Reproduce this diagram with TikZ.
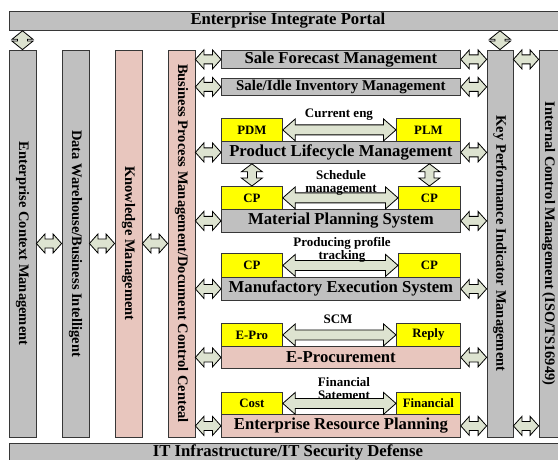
\documentclass[tikz,border=0pt]{standalone}
\usepackage{fontspec}
\setmainfont{Liberation Serif}
\usetikzlibrary{calc}
\definecolor{gfill}{RGB}{192,192,192}
\definecolor{pfill}{RGB}{232,198,190}
\definecolor{yfill}{RGB}{255,255,0}
\definecolor{afill}{RGB}{221,227,208}
\definecolor{edgec}{RGB}{55,55,55}
\tikzset{
 basebox/.style={draw=edgec, line width=0.8pt, inner sep=0pt, anchor=north west},
 gbox/.style={basebox, fill=gfill},
 pbox/.style={basebox, fill=pfill},
 ybox/.style={basebox, fill=yfill, font=\bfseries\fontsize{12.8}{14}\selectfont},
 bigtxt/.style={font=\bfseries\fontsize{16.7}{18}\selectfont},
 midtxt/.style={font=\bfseries\fontsize{14.9}{16}\selectfont},
 coltxt/.style={font=\bfseries\fontsize{14.5}{16}\selectfont},
 colbox/.style={draw=edgec, line width=0.8pt, inner sep=0pt, rotate=-90,
   minimum width=387pt, coltxt},
 lbl/.style={font=\bfseries\fontsize{13}{13}\selectfont, align=center, inner sep=0pt},
 fat/.style={draw=black, line width=0.8pt, fill=afill, line join=miter},
}
% #1 left point, #2 right point, #3 head half width, #4 shaft half width, #5 head length
\newcommand\fatH[5]{%
 \draw[fat] let \p1=#1, \p2=#2 in
  (\x1,\y1) -- (\x1+#5pt,\y1+#3pt) -- (\x1+#5pt,\y1+#4pt) -- (\x2-#5pt,\y1+#4pt)
  -- (\x2-#5pt,\y1+#3pt) -- (\x2,\y1) -- (\x2-#5pt,\y1-#3pt) -- (\x2-#5pt,\y1-#4pt)
  -- (\x1+#5pt,\y1-#4pt) -- (\x1+#5pt,\y1-#3pt) -- cycle;}
% #1 top point, #2 bottom point
\newcommand\fatV[5]{%
 \draw[fat] let \p1=#1, \p2=#2 in
  (\x1,\y1) -- (\x1+#3pt,\y1-#5pt) -- (\x1+#4pt,\y1-#5pt) -- (\x1+#4pt,\y2+#5pt)
  -- (\x1+#3pt,\y2+#5pt) -- (\x1,\y2) -- (\x1-#3pt,\y2+#5pt) -- (\x1-#4pt,\y2+#5pt)
  -- (\x1-#4pt,\y1-#5pt) -- (\x1-#3pt,\y1-#5pt) -- cycle;}
\begin{document}
\begin{tikzpicture}[x=1pt,y=-1pt]
\clip (0,0) rectangle (558,460);
\fill[white] (0,0) rectangle (558,460);
% bars
\node[gbox,bigtxt,minimum width=557pt,minimum height=19pt] (portal) at (9,11) {Enterprise Integrate Portal};
\node[gbox,bigtxt,minimum width=557pt,minimum height=19pt] (infra) at (9,443) {IT Infrastructure/IT Security Defense};
% columns
\node[colbox,fill=gfill,minimum height=27pt] (ecm) at (22.5,243.5) {Enterprise Context Management};
\node[colbox,fill=gfill,minimum height=27pt] (dw) at (75.5,243.5) {Data Warehouse/Business Intelligent};
\node[colbox,fill=pfill,minimum height=27pt] (km) at (128.5,243.5) {Knowledge Management};
\node[colbox,fill=pfill,minimum height=27pt] (bpm) at (181.5,243.5) {Business Process Management/Document Control Centeal};
\node[colbox,fill=gfill,minimum height=26pt] (kpi) at (500,243.5) {Key Performance Indicator Management};
\node[colbox,fill=gfill,minimum height=27pt] (icm) at (552.5,243.5) {};
\node[coltxt,rotate=-90,inner sep=0pt] (icmtxt) at (548.5,243.5) {Internal Control Management (ISO/TS16949)};
% rows
\node[gbox,bigtxt,minimum width=239pt,minimum height=18pt] (sfm) at (221,50) {Sale Forecast Management};
\node[gbox,midtxt,minimum width=239pt,minimum height=17pt] (sim) at (221,78) {Sale/Idle Inventory Management};
\node[ybox,minimum width=61pt,minimum height=23pt] (pdm) at (221,118) {PDM};
\node[ybox,minimum width=64pt,minimum height=23pt] (plmy) at (396,118) {PLM};
\node[gbox,bigtxt,minimum width=239pt,minimum height=22pt] (plm) at (221,141) {Product Lifecycle Management};
\node[ybox,minimum width=61pt,minimum height=23pt] (cpa) at (221,186) {CP};
\node[ybox,minimum width=62pt,minimum height=23pt] (cpb) at (398,186) {CP};
\node[gbox,bigtxt,minimum width=239pt,minimum height=23pt] (mps) at (221,209) {Material Planning System};
\node[ybox,minimum width=61pt,minimum height=24pt] (cpc) at (221,253) {CP};
\node[ybox,minimum width=62pt,minimum height=24pt] (cpd) at (398,253) {CP};
\node[gbox,bigtxt,minimum width=239pt,minimum height=23pt] (mes) at (221,277) {Manufactory Execution System};
\node[ybox,minimum width=61pt,minimum height=23pt] (epro) at (221,323) {E-Pro};
\node[ybox,minimum width=64pt,minimum height=23pt] (reply) at (396,323) {Reply};
\node[pbox,bigtxt,minimum width=239pt,minimum height=22pt] (eproc) at (221,346) {E-Procurement};
\node[ybox,minimum width=61pt,minimum height=22pt] (cost) at (221,392) {Cost};
\node[ybox,minimum width=64pt,minimum height=22pt] (fin) at (396,392) {Financial};
\node[pbox,bigtxt,minimum width=239pt,minimum height=23pt] (erp) at (221,414) {Enterprise Resource Planning};
% vertical arrows from portal
\fatV{(ecm.west |- portal.south)}{(ecm.west)}{10.5}{5}{8.5}
\fatV{(kpi.west |- portal.south)}{(kpi.west)}{10.5}{5}{8.5}
% column arrows
\fatH{(ecm.north)}{(dw.south)}{9.5}{4.5}{8.5}
\fatH{(dw.north)}{(km.south)}{9.5}{4.5}{8.5}
\fatH{(km.north)}{(bpm.south)}{9.5}{4.5}{8.5}
% bpm -> rows -> kpi
\foreach \r in {sfm,sim,plm,mps,mes,eproc,erp}{
  \fatH{(bpm.north |- \r.west)}{(\r.west)}{9.5}{4.5}{8.5}
  \fatH{(\r.east)}{(kpi.south |- \r.east)}{9.5}{4.5}{8.5}
}
% kpi <-> icm
\fatH{(kpi.north |- sfm.east)}{(icm.south |- sfm.east)}{9.5}{4.5}{8.5}
\fatH{(kpi.north |- erp.east)}{(icm.south |- erp.east)}{9.5}{4.5}{8.5}
% PLM -> CP
\fatV{(cpa.north |- plm.south)}{(cpa.north)}{10.5}{4.5}{8}
\fatV{(cpb.north |- plm.south)}{(cpb.north)}{10.5}{4.5}{8}
% long arrows
\fatH{(pdm.east)}{(plmy.west)}{11}{5}{12.5}
\fatH{(cpa.east)}{(cpb.west)}{11}{5}{12.5}
\fatH{(cpc.east)}{(cpd.west)}{11}{5}{12.5}
\fatH{(epro.east)}{(reply.west)}{11}{5}{12.5}
\fatH{(cost.east)}{(fin.west)}{11}{5}{12.5}
% labels
\node[lbl,anchor=base] (l1) at (339,118) {Current eng};
\node[lbl] (l2) at (341,183) {Schedule\\management};
\node[lbl] (l3) at (342,250) {Producing profile\\tracking};
\node[lbl,anchor=base] (l4) at (338,323) {SCM};
\node[lbl] (l5) at (344,388.5) {Financial\\Satement};
\end{tikzpicture}
\end{document}
